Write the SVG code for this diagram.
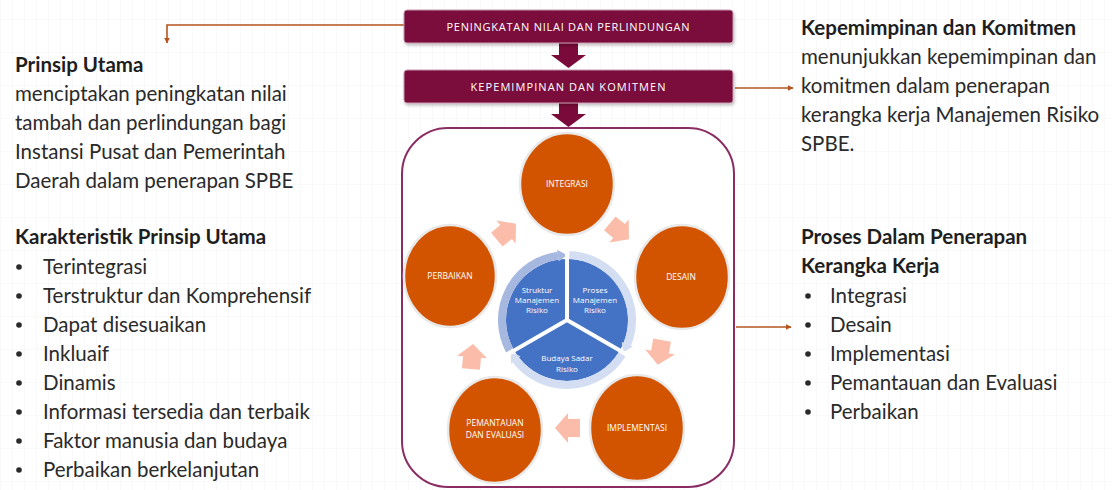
<svg xmlns="http://www.w3.org/2000/svg" width="1112" height="490" viewBox="0 0 1112 490">
  <defs>
    <style>
      .body { font-family: Lato, "Open Sans", "Liberation Sans", sans-serif; font-size: 20.5px; fill: #2a2a2a; }
      .dot { fill: #2a2a2a; }
      .head { font-family: Lato, "Open Sans", "Liberation Sans", sans-serif; font-size: 20.5px; font-weight: bold; fill: #1e1e1e; }
      .bar { fill: #7a0a3a; stroke: #c79ab0; stroke-width: 1; }
      .barText { font-family: "Open Sans", "Liberation Sans", sans-serif; font-size: 11px; fill: #ffffff; text-anchor: middle; }
      .stage { fill: #d35400; stroke: #e9e9e9; stroke-width: 2.5; }
      .stageText { font-family: "Open Sans", "Liberation Sans", sans-serif; font-size: 8.5px; fill: #ffffff; text-anchor: middle; }
      .coreText { font-family: "Open Sans", "Liberation Sans", sans-serif; font-size: 8px; fill: #ffffff; text-anchor: middle; }
      .flow { fill: #fbbca9; }
      .link { fill: none; stroke: #b5541f; stroke-width: 1.6; }
      .ring { fill: none; stroke-width: 8; }
    </style>
    <marker id="tip" viewBox="0 0 10 10" refX="9" refY="5" markerWidth="6" markerHeight="6" orient="auto-start-reverse" markerUnits="userSpaceOnUse">
      <path d="M0,0 L10,5 L0,10 z" fill="#b5541f"/>
    </marker>
    <pattern id="grid" width="12" height="33" patternUnits="userSpaceOnUse" y="19">
      <path d="M0,0 H12 M0,0 V33" fill="none" stroke="#f4f4f8" stroke-width="1"/>
    </pattern>
    <filter id="shadow" x="-10%" y="-20%" width="120%" height="150%">
      <feDropShadow dx="1" dy="2" stdDeviation="1.5" flood-color="#000" flood-opacity="0.25"/>
    </filter>
    <!-- block arrow pointing right, centred on the origin -->
    <path id="blockArrow" d="M-12,-9 H0 V-15 L13,0 L0,15 V9 H-12 z"/>
  </defs>

  <rect width="1112" height="490" fill="#ffffff"/>
  <rect width="1112" height="490" fill="url(#grid)"/>

  <!-- left column -->
  <g id="prinsip-utama">
    <text class="head" x="15" y="72">Prinsip Utama</text>
    <text class="body" x="15" y="101">menciptakan peningkatan nilai</text>
    <text class="body" x="15" y="130">tambah dan perlindungan bagi</text>
    <text class="body" x="15" y="159">Instansi Pusat dan Pemerintah</text>
    <text class="body" x="15" y="188">Daerah dalam penerapan SPBE</text>
  </g>

  <g id="karakteristik">
    <text class="head" x="15" y="244">Karakteristik Prinsip Utama</text>
    <g class="dot">
      <circle cx="19" cy="267" r="2.8"/>
      <circle cx="19" cy="296" r="2.8"/>
      <circle cx="19" cy="325" r="2.8"/>
      <circle cx="19" cy="354" r="2.8"/>
      <circle cx="19" cy="383" r="2.8"/>
      <circle cx="19" cy="412" r="2.8"/>
      <circle cx="19" cy="441" r="2.8"/>
      <circle cx="19" cy="470" r="2.8"/>
    </g>
    <g class="body">
      <text x="43" y="274">Terintegrasi</text>
      <text x="43" y="303">Terstruktur dan Komprehensif</text>
      <text x="43" y="332">Dapat disesuaikan</text>
      <text x="43" y="361">Inkluaif</text>
      <text x="43" y="390">Dinamis</text>
      <text x="43" y="419">Informasi tersedia dan terbaik</text>
      <text x="43" y="448">Faktor manusia dan budaya</text>
      <text x="43" y="477">Perbaikan berkelanjutan</text>
    </g>
  </g>

  <!-- right column -->
  <g id="kepemimpinan-info">
    <text class="head" x="801" y="35">Kepemimpinan dan Komitmen</text>
    <text class="body" x="801" y="64">menunjukkan kepemimpinan dan</text>
    <text class="body" x="801" y="93">komitmen dalam penerapan</text>
    <text class="body" x="801" y="122">kerangka kerja Manajemen Risiko</text>
    <text class="body" x="801" y="151">SPBE.</text>
  </g>

  <g id="proses-info">
    <text class="head" x="801" y="244">Proses Dalam Penerapan</text>
    <text class="head" x="801" y="273">Kerangka Kerja</text>
    <g class="dot">
      <circle cx="808" cy="296" r="2.8"/>
      <circle cx="808" cy="325" r="2.8"/>
      <circle cx="808" cy="354" r="2.8"/>
      <circle cx="808" cy="383" r="2.8"/>
      <circle cx="808" cy="412" r="2.8"/>
    </g>
    <g class="body">
      <text x="830" y="303">Integrasi</text>
      <text x="830" y="332">Desain</text>
      <text x="830" y="361">Implementasi</text>
      <text x="830" y="390">Pemantauan dan Evaluasi</text>
      <text x="830" y="419">Perbaikan</text>
    </g>
  </g>

  <!-- connectors -->
  <g id="connectors">
    <path class="link" d="M404,25 H167 V43" marker-end="url(#tip)"/>
    <path class="link" d="M735,88 H793" marker-end="url(#tip)"/>
    <path class="link" d="M736,327 H791" marker-end="url(#tip)"/>
    <!-- stacked bar arrows -->
    <g fill="#7a0a3a">
      <rect x="559" y="43" width="19" height="13"/>
      <polygon points="551,55 586,55 568.5,68"/>
      <rect x="559" y="103" width="19" height="12"/>
      <polygon points="551,114 586,114 568.5,127"/>
    </g>
  </g>

  <g id="peningkatan">
    <rect class="bar" x="404" y="10" width="329" height="33" rx="3" filter="url(#shadow)"/>
    <text class="barText" x="568" y="31" textLength="243" lengthAdjust="spacing">PENINGKATAN NILAI DAN PERLINDUNGAN</text>
  </g>

  <g id="kepemimpinan">
    <rect class="bar" x="404" y="70" width="329" height="33" rx="3" filter="url(#shadow)"/>
    <text class="barText" x="568" y="91" textLength="195" lengthAdjust="spacing">KEPEMIMPINAN DAN KOMITMEN</text>
  </g>

  <!-- framework panel -->
  <g id="kerangka">
    <rect x="402" y="128" width="332" height="359" rx="46" fill="#ffffff" stroke="#8a2d63" stroke-width="2"/>

    <g id="inti">
      <circle cx="567" cy="320" r="61" fill="#4472c4"/>
      <path class="ring" stroke="#a6b8e0" d="M509.6,350.5 A65,65 0 0 1 558.0,255.6"/>
      <polygon fill="#a6b8e0" points="558.8,261.6 557.1,249.7 567,255"/>
      <path class="ring" stroke="#d3def2" d="M569.3,255.0 A65,65 0 0 1 627.3,344.3"/>
      <polygon fill="#d3def2" points="621.7,342.1 632.8,346.6 623.3,352.5"/>
      <path class="ring" stroke="#d3def2" d="M622.1,354.4 A65,65 0 0 1 515.8,360.0"/>
      <polygon fill="#d3def2" points="520.5,356.3 511.1,363.7 510.7,352.5"/>
      <g stroke="#ffffff" stroke-width="4">
        <line x1="567" y1="320" x2="567" y2="248"/>
        <line x1="567" y1="320" x2="629.4" y2="356"/>
        <line x1="567" y1="320" x2="504.6" y2="356"/>
      </g>
      <text class="coreText" x="537" y="293">Struktur</text>
      <text class="coreText" x="537" y="303">Manajemen</text>
      <text class="coreText" x="537" y="313">Risiko</text>
      <text class="coreText" x="595" y="293">Proses</text>
      <text class="coreText" x="595" y="303">Manajemen</text>
      <text class="coreText" x="595" y="313">Risiko</text>
      <text class="coreText" x="567" y="361">Budaya Sadar</text>
      <text class="coreText" x="567" y="372">Risiko</text>
    </g>

    <g id="alur" class="flow">
      <use href="#blockArrow" transform="translate(619,231) rotate(40)"/>
      <use href="#blockArrow" transform="translate(660,352) rotate(100)"/>
      <use href="#blockArrow" transform="translate(568,428) rotate(180)"/>
      <use href="#blockArrow" transform="translate(472,357) rotate(-85)"/>
      <use href="#blockArrow" transform="translate(506,232) rotate(-40)"/>
    </g>

    <g id="integrasi">
      <ellipse class="stage" cx="567" cy="184" rx="47" ry="51"/>
      <text class="stageText" x="567" y="187">INTEGRASI</text>
    </g>
    <g id="desain">
      <ellipse class="stage" cx="682" cy="277" rx="47" ry="52"/>
      <text class="stageText" x="681" y="280">DESAIN</text>
    </g>
    <g id="implementasi">
      <ellipse class="stage" cx="637" cy="428" rx="47" ry="53"/>
      <text class="stageText" x="637" y="431">IMPLEMENTASI</text>
    </g>
    <g id="pemantauan">
      <ellipse class="stage" cx="495" cy="430" rx="47" ry="53"/>
      <text class="stageText" x="495" y="426">PEMANTAUAN</text>
      <text class="stageText" x="495" y="438">DAN EVALUASI</text>
    </g>
    <g id="perbaikan">
      <ellipse class="stage" cx="450" cy="276" rx="46" ry="51"/>
      <text class="stageText" x="450" y="279">PERBAIKAN</text>
    </g>
  </g>
</svg>
